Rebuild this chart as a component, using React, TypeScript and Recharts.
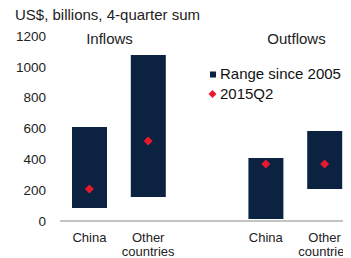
import React from "react";
import { ComposedChart, Bar, Scatter, XAxis, YAxis } from "recharts";

const categoryKeys = ["c1", "c2", "gap", "c3", "c4"];
const categoryLabels = ["China", "Other countries", "", "China", "Other countries"];
const rangeLow = [84, 156, null, 13, 208];
const rangeHigh = [610, 1077, null, 409, 584];
const q2Values = [208, 519, null, 370, 370];
const yTicks = [0, 200, 400, 600, 800, 1000, 1200];
const legendLabels = ["Range since 2005", "2015Q2"];

const NAVY = "#0b2341";
const RED = "#e8192c";
const FONT = "'Liberation Sans', Arial, sans-serif";

const data = categoryKeys.map((k, i) => ({
  key: k,
  label: categoryLabels[i],
  range: rangeLow[i] == null ? null : [rangeLow[i], rangeHigh[i]],
  q2: q2Values[i],
}));

const XTick = (props: any) => {
  const { x, y, payload } = props;
  const idx = categoryKeys.indexOf(payload.value);
  const label = idx >= 0 ? categoryLabels[idx] : "";
  if (!label) return null;
  const lines = label.split(" ");
  return (
    <text x={x} y={y} textAnchor="middle" fontSize={13} fontFamily={FONT} fill="#222">
      {lines.map((l, i) => (
        <tspan key={i} x={x} dy={i === 0 ? 21 : 13.5}>
          {l}
        </tspan>
      ))}
    </text>
  );
};

const Diamond = (props: any) => {
  const { cx, cy, payload } = props;
  if (payload == null || payload.q2 == null || isNaN(cy)) return null;
  const r = 4.5;
  return (
    <polygon
      points={`${cx},${cy - r} ${cx + r},${cy} ${cx},${cy + r} ${cx - r},${cy}`}
      fill={RED}
    />
  );
};

const textStyle: React.CSSProperties = {
  position: "absolute",
  fontSize: 15,
  lineHeight: "17px",
  color: "#222",
  whiteSpace: "nowrap",
};

export default function App() {
  return (
    <div
      style={{
        position: "relative",
        margin: "-8px 0 0 -8px",
        width: 351,
        height: 258,
        overflow: "hidden",
        background: "#fff",
        fontFamily: FONT,
      }}
    >
      <ComposedChart
        width={354}
        height={258}
        data={data}
        margin={{ top: 36, right: 0, left: 0, bottom: 0 }}
      >
        <XAxis
          dataKey="key"
          type="category"
          height={37}
          tickLine={false}
          tickSize={0}
          tickMargin={0}
          axisLine={{ stroke: "#888", strokeWidth: 1 }}
          tick={<XTick />}
          interval={0}
        />
        <YAxis
          width={60}
          domain={[0, 1200]}
          ticks={yTicks}
          axisLine={false}
          tickLine={false}
          tickSize={0}
          tickMargin={14}
          tick={{ fontSize: 13.5, fontFamily: FONT, fill: "#222" }}
          interval={0}
        />
        <Bar dataKey="range" fill={NAVY} barSize={35} isAnimationActive={false} />
        <Scatter dataKey="q2" fill={RED} shape={<Diamond />} isAnimationActive={false} />
      </ComposedChart>
      <div style={{ ...textStyle, left: 15, top: 6 }}>US$, billions, 4-quarter sum</div>
      <div style={{ ...textStyle, left: 59.5, width: 100, textAlign: "center", top: 30 }}>
        Inflows
      </div>
      <div style={{ ...textStyle, left: 246.5, width: 100, textAlign: "center", top: 30 }}>
        Outflows
      </div>
      <div style={{ position: "absolute", left: 207, top: 64, fontSize: 15, color: "#111" }}>
        <div style={{ display: "flex", alignItems: "center", height: 20 }}>
          <svg width={13} height={20} style={{ display: "block", flex: "none" }}>
            <rect x={3} y={7.5} width={6} height={6} fill={NAVY} />
          </svg>
          <span style={{ lineHeight: "20px", whiteSpace: "nowrap" }}>{legendLabels[0]}</span>
        </div>
        <div style={{ display: "flex", alignItems: "center", height: 20 }}>
          <svg width={13} height={20} style={{ display: "block", flex: "none" }}>
            <polygon points="5.5,6 9.5,10 5.5,14 1.5,10" fill={RED} />
          </svg>
          <span style={{ lineHeight: "20px", whiteSpace: "nowrap" }}>{legendLabels[1]}</span>
        </div>
      </div>
    </div>
  );
}
